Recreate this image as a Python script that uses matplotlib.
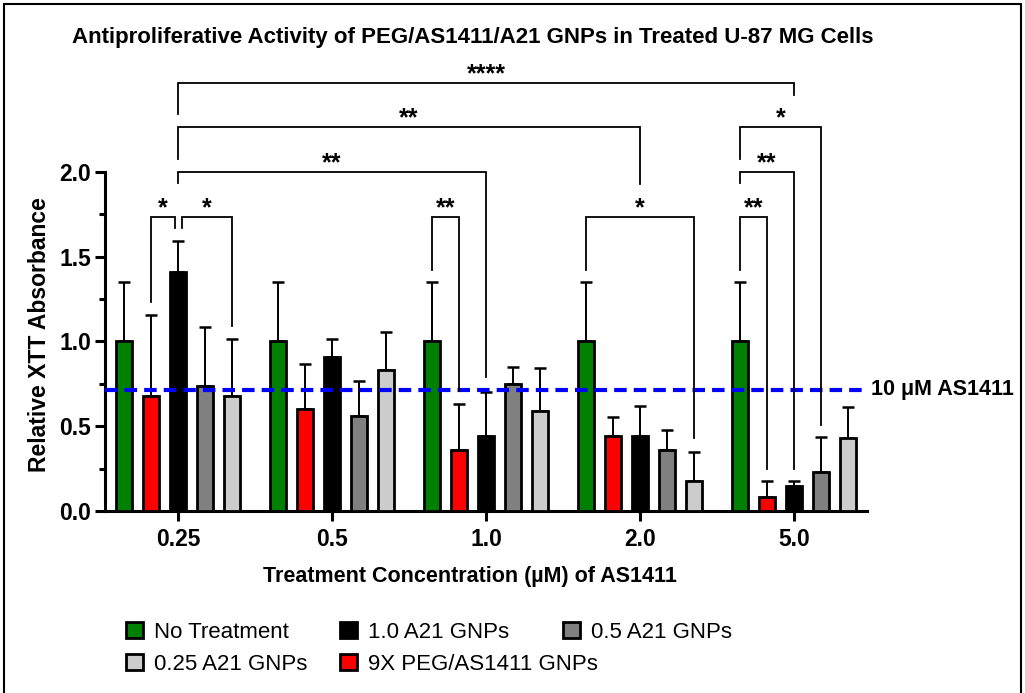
import numpy as np
import matplotlib.pyplot as plt
from matplotlib.patches import Rectangle
from matplotlib.ticker import FixedLocator

plt.rcParams['font.family'] = ['Liberation Sans', 'DejaVu Sans']

# ---- data ----
groups = ['0.25', '0.5', '1.0', '2.0', '5.0']

series_names = ['No Treatment', '9X PEG/AS1411 GNPs', '1.0 A21 GNPs',
                '0.5 A21 GNPs', '0.25 A21 GNPs']
series_colors = ['#008000', '#ff0000', '#000000', '#808080', '#cccccc']

no_treat = [1.0, 1.0, 1.0, 1.0, 1.0]
no_treat_sd = [0.35, 0.35, 0.35, 0.35, 0.35]
peg = [0.68, 0.60, 0.36, 0.44, 0.085]
peg_sd = [0.475, 0.27, 0.27, 0.115, 0.09]
a21_10 = [1.41, 0.91, 0.44, 0.44, 0.15]
a21_10_sd = [0.18, 0.105, 0.26, 0.18, 0.025]
a21_05 = [0.74, 0.56, 0.75, 0.36, 0.23]
a21_05_sd = [0.345, 0.205, 0.10, 0.12, 0.205]
a21_025 = [0.68, 0.83, 0.59, 0.18, 0.43]
a21_025_sd = [0.335, 0.225, 0.255, 0.17, 0.185]

means = [no_treat, peg, a21_10, a21_05, a21_025]
sds = [no_treat_sd, peg_sd, a21_10_sd, a21_05_sd, a21_025_sd]

ref_level = 0.714          # 10 uM AS1411
ref_label = '10 \u03bcM AS1411'

# comparisons: (group a, bar a, group b, bar b, bracket height, label, leg end a, leg end b)
comparisons = [
    (0, 2, 4, 2, 2.525, '****', 2.34, 2.457),
    (0, 2, 3, 2, 2.265, '**', 2.075, 1.932),
    (0, 2, 2, 2, 2.0, '**', 1.933, 0.79),
    (0, 1, 0, 2, 1.737, '*', 1.233, 1.668),
    (0, 2, 0, 4, 1.737, '*', 1.668, 1.092),
    (2, 0, 2, 1, 1.737, '**', 1.42, 0.708),
    (3, 0, 3, 4, 1.737, '*', 1.42, 0.429),
    (4, 0, 4, 1, 1.737, '**', 1.42, 0.246),
    (4, 0, 4, 2, 2.0, '**', 1.933, 0.246),
    (4, 0, 4, 3, 2.265, '*', 2.075, 0.506),
]

# legend layout: (series index, left of swatch px, row centre px)
legend_slots = [(0, 126, 632), (2, 340, 632), (3, 563, 632),
                (4, 126, 664), (1, 340, 664)]

W, H = 1025, 693

# ---- figure ----
fig = plt.figure(figsize=(W / 100, H / 100), dpi=100)
ax = fig.add_axes([0.1024, 0.2626, 0.7435, 0.636])

step = 0.175
width = 0.102
xg = np.arange(len(groups))

bars = []
for i in range(len(series_names)):
    xs = xg + (i - 2) * step
    b = ax.bar(xs, means[i], width=width, color=series_colors[i],
               edgecolor='black', linewidth=2.0, zorder=3, label=series_names[i])
    bars.append(b)
    ax.errorbar(xs, means[i], yerr=[np.zeros(len(groups)), sds[i]], fmt='none',
                ecolor='black', elinewidth=1.4, capsize=4, capthick=1.8, zorder=2)

ax.axhline(ref_level, color='#0000ff', lw=3.0, ls=(0, (3.0, 1.7)), zorder=4)
ax.text(1.005, ref_level, ref_label, transform=ax.get_yaxis_transform(),
        ha='left', va='center', fontsize=15.5, fontweight='bold')


def bar_x(g, i):
    return xg[g] + (i - 2) * step


for ga, ia, gb, ib, h, lab, ea, eb in comparisons:
    x1 = bar_x(ga, ia)
    x2 = bar_x(gb, ib)
    # shared black bar of the 0.25 group: nudge so the two brackets don't touch
    if ga == gb == 0:
        if ib == 2:
            x2 -= 0.022
        if ia == 2:
            x1 += 0.026
    ax.plot([x1, x1, x2, x2], [ea, h, h, eb], color='black', lw=1.3,
            solid_joinstyle='miter', zorder=5, clip_on=False)
    ax.text((x1 + x2) / 2, h + 0.01, lab, ha='center', va='baseline',
            fontsize=18, fontweight='bold')

ax.set_xlim(-0.474, 4.474)
ax.set_ylim(0, 2.6)
ax.set_xticks(xg)
ax.set_xticklabels(groups)
ax.set_yticks([0, 0.5, 1.0, 1.5, 2.0])
ax.set_yticklabels(['0.0', '0.5', '1.0', '1.5', '2.0'])
ax.yaxis.set_minor_locator(FixedLocator([0.25, 0.75, 1.25, 1.75]))

for s in ['top', 'right']:
    ax.spines[s].set_visible(False)
ax.spines['left'].set_bounds(0, 2)
ax.spines['left'].set_linewidth(2.2)
ax.spines['bottom'].set_linewidth(2.2)
ax.tick_params(axis='both', which='major', length=7, width=2.2, labelsize=16.5,
               direction='out')
ax.tick_params(axis='y', which='minor', length=4, width=2.2)
ax.tick_params(axis='x', pad=5)
ax.tick_params(axis='y', pad=3)
for t in ax.get_xticklabels() + ax.get_yticklabels():
    t.set_fontweight('bold')

ax.set_ylabel('Relative XTT Absorbance', fontsize=16.5, fontweight='bold')
ax.yaxis.set_label_coords(-0.071, 0.40)
ax.set_xlabel('Treatment Concentration (\u00b5M) of AS1411', fontsize=15.5,
              fontweight='bold')
ax.xaxis.set_label_coords(0.479, -0.125)

fig.text(473 / W, 1 - 37 / H,
         'Antiproliferative Activity of PEG/AS1411/A21 GNPs in Treated U-87 MG Cells',
         ha='center', va='center', fontsize=16, fontweight='bold')

# legend: one entry per slot so the rows line up like the reference
for k, xl, yc in legend_slots:
    leg = fig.legend([bars[k]], [series_names[k]], loc='center left',
                     bbox_to_anchor=(xl / W, 1 - yc / H), frameon=False,
                     fontsize=16, handlelength=0.75, handleheight=0.75,
                     handletextpad=0.5, borderpad=0.0, borderaxespad=0.0)

fig.patches.append(Rectangle((4 / W, -0.05), 1017 / W, 1.05 - 4 / H,
                             transform=fig.transFigure, fill=False,
                             edgecolor='black', lw=1.5))

fig.savefig('out.png', dpi=100)
